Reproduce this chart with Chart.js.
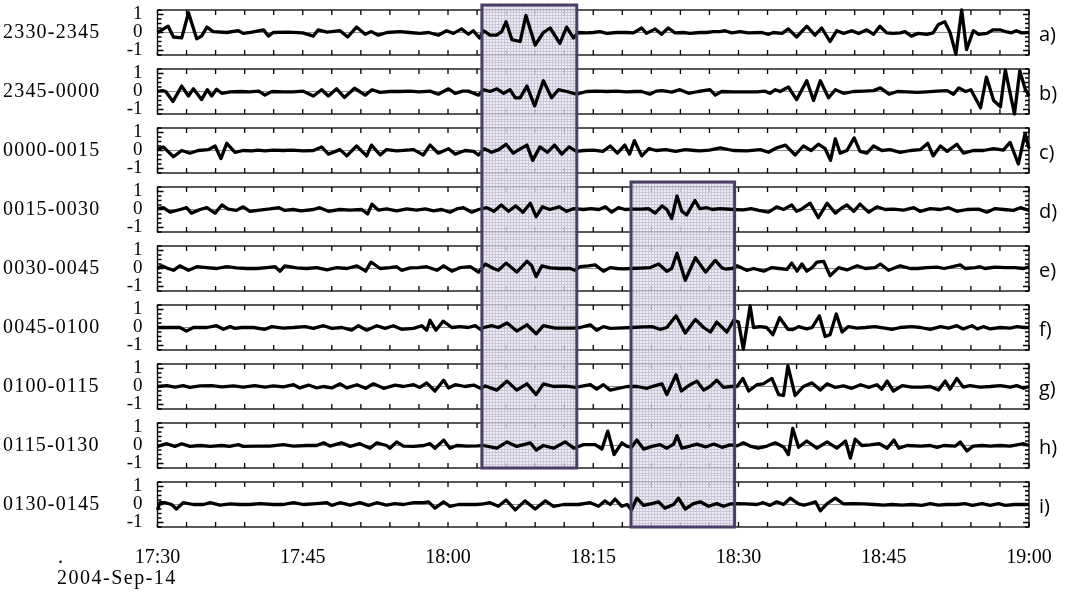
<!DOCTYPE html>
<html>
<head>
<meta charset="utf-8">
<script src="https://cdn.jsdelivr.net/npm/chart.js@4.4.0/dist/chart.umd.min.js"></script>
<style>
  body{margin:0;background:#fff;}
  #wrap{position:relative;width:1066px;height:596px;overflow:hidden;background:#fff;}
  .pane{position:absolute;left:0;width:1066px;}
  .name{position:absolute;left:3px;font-family:"Liberation Serif",serif;font-size:20px;letter-spacing:1.2px;line-height:22px;white-space:nowrap;color:#000;}
  .tag{position:absolute;left:1039px;font-family:"Open Sans",sans-serif;font-size:20px;line-height:24px;color:#000;}
</style>
</head>
<body>
<div id="wrap"></div>
<script>
// minutes after 17:30, 2004-Sep-14
var panelNames = ["2330-2345","2345-0000","0000-0015","0015-0030","0030-0045","0045-0100","0100-0115","0115-0130","0130-0145"];
var panelTags = ["a)","b)","c)","d)","e)","f)","g)","h)","i)"];

var tA = [0,1.1,1.65,2.5,3.2,4.05,4.55,5.1,5.75,7.15,8.35,8.85,9.75,10.95,11.45,11.95,13.5,15,16.1,16.6,
  17.5,18.85,19.65,20.55,21.45,22.1,22.8,23.7,25.05,26,27.1,28,29,29.85,30.55,31.4,32.1,32.6,33.25,33.65,
  34.35,35,35.55,36,36.6,37.45,38.05,39,39.85,40.55,41.55,42.25,42.95,43.45,44.3,45,45.7,46.4,47.4,48.45,
  49.15,50,50.5,51.4,52.05,52.75,53.45,54.3,55,56,56.7,57.4,58.1,58.6,59.3,60.15,61,62.4,63.1,63.6,
  64.5,65.15,66,67.05,67.9,68.6,69.45,70.15,70.85,71.7,72.4,73.25,73.95,74.6,75.3,76,76.7,77.2,77.85,78.55,
  79.45,80.1,80.65,81.3,81.85,82.45,83.05,83.55,84.25,84.8,85.65,86.3,87,87.7,88.2,88.7,89.25,90];
var vA = [0,0.35,-0.25,-0.3,1.1,-0.35,-0.2,0.3,0.05,0,0.1,-0.05,0.02,0.15,-0.2,0,0.02,-0.02,-0.2,0.15,
  0.02,0.1,-0.25,0.3,-0.1,0.05,-0.15,0,0.05,0,-0.05,0,-0.15,0.1,-0.05,0.2,-0.1,0.1,-0.3,0.1,
  -0.15,-0.15,0.05,0.6,-0.4,-0.5,0.95,-0.7,0,0.25,-0.6,0.3,-0.3,0,-0.02,0,0.05,-0.05,0,0,
  -0.02,0.25,-0.05,0.2,-0.1,0.25,-0.02,0,-0.05,0,0,0.05,0.05,0.1,-0.02,0.05,-0.02,0,-0.1,0,
  -0.05,0.2,-0.25,0.35,-0.15,0.25,-0.5,0.1,-0.05,0.1,-0.05,0.15,-0.1,0.35,-0.02,-0.05,-0.02,0.05,-0.2,-0.05,
  -0.1,-0.02,0.45,0.6,0,-1.2,1.25,-0.95,0.1,-0.1,-0.05,0.15,0.15,0.03,-0.02,0.1,-0.02,0];

var tB = [0,0.5,0.85,1.6,2.5,3.2,3.7,4.55,5.15,5.6,
  6.1,6.65,7.5,8.55,9.55,10.45,11.1,11.8,13,14,
  15.05,16.1,16.95,17.65,18.5,19.3,20.35,21.45,22.15,23,
  24,25,26.1,27,28.15,29,30.05,30.75,31.5,32.1,
  33.15,33.65,34.35,35.05,35.75,36.4,36.95,37.45,38.15,38.95,
  39.85,40.7,41.4,42.25,43.3,44.3,45.35,46.4,47.4,48.45,
  49.3,50,50.85,51.5,52.1,53.1,53.95,54.85,55.85,57.05,
  57.6,58.25,59.45,60.5,61.9,62.75,63.25,63.8,64.3,65.15,
  66,67.05,67.75,68.45,69.3,70,70.85,71.9,72.95,73.95,
  74.65,75.55,76.4,77.4,78.45,79.45,80.5,81.55,82.2,82.75,
  83.45,84,85,85.6,86.35,87.05,87.55,88.5,89.05,89.6,
  90];
var vB = [0,0.05,0,-0.55,0.3,-0.25,0.15,-0.45,0.1,-0.25,
  0.12,-0.1,-0.02,0,-0.02,0.02,-0.2,0,-0.02,-0.02,
  0.02,-0.25,0.1,-0.25,0.15,-0.33,0.18,-0.2,0.1,-0.05,
  0,0,0.02,-0.02,0.02,-0.15,0.15,-0.1,0.02,0.02,
  -0.2,0.1,0,0.15,-0.1,0.1,-0.35,-0.35,0.3,-0.8,
  0.6,-0.35,0.1,0,-0.15,0,0.02,0,0.02,-0.02,
  0,0,-0.15,0.02,0.05,-0.03,0.1,-0.1,0,0.1,
  -0.2,0,-0.02,-0.02,-0.02,0.02,-0.1,0.1,0,0.25,
  -0.45,0.6,-0.5,0.6,-0.35,0.1,-0.1,0,0.02,0.05,
  0.2,-0.15,0,-0.02,-0.05,-0.02,0.02,0.05,-0.15,0.2,
  0,0.1,-0.9,0.8,-0.5,-0.85,1.2,-1.25,1.15,0.15,
  -0.25];

var tC = [0,0.6,1.65,2.5,3.35,4.2,5.25,5.95,6.55,7.15,
  8,8.85,9.75,10.4,11.1,11.95,13,13.85,15.05,16.1,
  16.95,17.65,18.85,19.55,20.55,21.6,22.1,23,23.65,24.7,
  25.75,26.45,27.45,28.15,29,30.05,30.75,31.75,32.65,33.15,
  33.75,34.5,35.25,36,36.75,37.5,38.15,38.75,39.5,40.25,
  41,41.75,42.5,43.25,44,45,46,46.75,47.5,48.25,
  48.75,49.25,50,50.75,51.5,52.5,53.5,54.5,55.5,56,
  57,58.1,59.45,60.85,62.25,63.1,63.95,64.85,65.85,66.7,
  67.5,68.25,68.95,69.5,70,70.5,71.2,71.95,72.55,73.25,
  73.95,74.8,75.65,76.7,77.75,78.8,79.55,80.1,80.85,81.55,
  82.55,83.25,84.25,85.3,86.35,87.35,88.05,88.9,89.6,90];
var vC = [0.05,0.2,-0.35,0,-0.15,0,0.05,0.25,-0.45,0.4,
  -0.1,0,-0.02,0.02,-0.02,0.02,0,0.02,-0.02,0,
  0.2,-0.2,0.05,-0.3,0.25,-0.3,0.3,-0.25,0.05,-0.02,
  0.02,0.05,-0.25,0.3,-0.15,0.1,-0.2,0,-0.05,-0.25,
  0.1,-0.1,0.05,0.35,-0.15,0.1,0.3,-0.55,0.2,-0.1,
  0.3,-0.2,0.2,-0.05,0,0.02,-0.05,0.25,-0.15,0.3,
  -0.2,0.55,-0.3,0.1,0,0.05,-0.05,0.05,0,-0.02,
  0.02,0.15,0,-0.02,0.05,-0.1,0.15,0.3,-0.25,0.25,
  0,0.35,0.1,-0.55,0.65,-0.15,0,0.7,-0.05,-0.15,
  0.25,0,0.05,-0.1,0,0.05,0.4,-0.3,0.25,-0.05,
  0.35,-0.15,0,0,0.1,0.02,0.45,-0.75,0.95,0.1];

var tD = [0,0.6,1.3,2.35,3,3.5,4.4,5.1,5.95,6.65,
  7.3,8.15,8.85,9.55,10.55,11.6,12.55,13.15,14,14.85,
  16.1,16.75,17.65,18.85,19.9,21.1,21.7,22.15,22.8,23.65,
  24.7,25.75,26.75,27.65,28.5,29.35,30.2,30.9,31.6,32.45,
  33.15,34,34.75,35.5,36.25,37,37.75,38.5,39.1,39.75,
  40.5,41.5,42.25,43,44,44.75,45.6,46.25,46.9,47.6,
  48.3,49,50,50.7,51.4,52.1,52.6,53.1,53.65,54.15,
  54.65,55.5,56,56.75,57.3,58.1,59.45,60.5,61.3,62.1,
  63.1,63.95,64.65,65.5,66,66.5,67.4,68.25,69.15,70,
  70.7,71.2,71.9,72.55,73.45,74.3,75.15,76,77.05,78.1,
  78.75,79.8,80.85,81.7,82.55,83.6,84.8,85.65,86.5,87.4,
  88.4,89.1,90];
var vD = [0.05,0.1,-0.15,0,0.1,-0.2,0,0.1,-0.2,0.25,
  0.02,-0.05,0.15,-0.1,-0.03,0.03,0.1,-0.05,0,-0.08,
  0,0.1,-0.1,0,-0.03,0,-0.25,0.3,-0.03,0.03,
  -0.08,0.03,-0.03,0.03,-0.08,0,-0.15,0.03,0.1,-0.15,
  0,0.1,-0.1,0.25,-0.1,0.2,-0.15,0.35,-0.4,0.15,
  0,0.15,-0.1,0.05,0,0.05,0,0.15,-0.15,0.1,
  0,0.02,0.02,0.05,-0.2,0.2,0,-0.5,0.75,-0.1,
  -0.3,0.5,0.05,0.1,0,0.05,0,-0.02,0.05,-0.05,
  -0.15,0.15,0,0.25,-0.1,0.02,0.35,-0.45,0.35,-0.2,
  0.1,0.25,-0.1,0.3,-0.15,0.15,0,0.02,-0.03,0.1,
  -0.1,0.05,0,0.1,-0.1,0,0.02,-0.15,0.05,0,
  -0.05,0.1,-0.05];

var tE = [0,0.45,0.95,1.65,2.3,3.2,4.05,5.1,6.1,7.15,
  8.15,9.2,10.25,11.3,12.15,12.65,13.15,14.35,15.4,16.45,
  17.5,18.5,19.55,20.6,21.5,22.05,23,24,24.7,25.2,
  26.1,26.95,27.8,28.85,29.55,30.4,31.25,32.3,33.15,33.85,
  34.7,35.2,36,37.1,38.15,38.65,39.1,39.7,40.55,41.55,
  42.6,43.1,43.65,44.5,45.2,46.05,46.75,47.45,48.1,48.95,
  49.85,50.9,51.75,52.6,53.1,53.65,54.5,55.55,56.6,57.6,
  58.3,58.65,59.35,59.85,60.85,61.55,62.6,63.45,64.2,65,
  65.5,66.05,66.55,67.05,67.6,68.1,68.8,69.45,70.35,71.2,
  72.25,73.1,74.1,74.65,75.5,76.7,77.75,78.5,79.45,80.5,
  81.25,82.9,83.4,84.45,84.95,85.45,86.5,87.55,88.55,89.45,
  90];
var vE = [0,0.15,0.03,-0.1,0.15,-0.1,0.1,0.05,0,0.1,
  0.03,0,0,0.05,0.1,-0.15,0.15,0.03,0,0.05,
  -0.08,0.05,0,0.15,-0.15,0.35,0,0.05,0.1,-0.1,
  0.03,0.05,0.1,-0.1,0.15,-0.15,0.05,0.1,-0.2,0.25,
  0,-0.1,0.3,-0.2,0.4,0.15,-0.45,0.15,0.03,0,
  0,-0.1,0.1,0.15,0.2,-0.15,0.05,0,-0.02,0,
  0.02,0.05,0.25,-0.15,0,0.85,-0.65,0.6,-0.2,0.45,
  0.03,-0.03,0,0.15,-0.1,0,-0.15,0.05,0,-0.05,
  0.3,-0.15,0.25,-0.15,0.05,0.35,0.4,-0.4,0.05,-0.08,
  0.15,0,0.05,0.25,-0.1,0.15,0,0,0.05,0.08,
  0,0.2,0,0.05,0.1,0,0.08,0.05,0.05,0,
  0.1];

var tF = [0,1.3,2.3,3,3.7,5.1,6.1,6.8,7.5,8,
  8.7,9.9,11.1,11.8,13,14.05,15.25,16.1,17.15,18,
  19.05,20.05,20.75,21.6,22.65,23.5,24.35,25.2,26.45,27.3,
  27.8,28.15,28.75,29.5,30.4,31.25,32.1,32.8,33.35,33.7,
  34.5,35.2,36.1,37.1,38.15,39.1,39.85,41.05,42.1,42.95,
  43.65,44.7,45.35,46.05,46.75,47.45,49,50.2,51.05,51.9,
  52.6,53.55,54.5,55.55,56.4,57.1,57.75,58.8,59.5,60,
  60.5,61.2,61.55,62.25,62.9,63.55,64.25,65.1,65.6,66.2,
  67.05,67.6,68.35,68.95,69.45,70.1,70.7,71.35,72.25,73.1,
  74.1,75.1,75.85,76.7,77.9,78.8,79.8,80.85,81.7,82.55,
  83.2,84.1,84.65,85.3,86,87,88.05,88.75,89.45,90];
var vF = [0,0,0,-0.2,0,0,0.1,-0.1,0.05,-0.05,
  0,0,-0.1,0.05,-0.03,0,0.05,-0.05,0.1,-0.05,
  0,-0.15,0.1,-0.15,0.1,-0.05,0.1,-0.1,-0.05,0.1,
  -0.15,0.4,-0.15,0.35,0,0.05,0,0.1,-0.1,0,
  0.1,0,0.25,-0.2,0.15,-0.35,0.1,-0.03,-0.03,-0.03,
  0,0.15,-0.15,0.05,-0.05,-0.03,0,0.03,0.05,-0.1,
  0,0.65,-0.3,0.45,0,-0.25,0.3,-0.25,0.4,0.3,
  -1.2,1.2,0,0.05,0,-0.4,0.55,-0.1,-0.12,0.05,
  -0.08,0,0.65,-0.5,-0.4,0.75,-0.25,0.05,-0.03,0,
  0.05,-0.03,-0.1,0,0.05,0,-0.1,0.05,-0.03,0.1,
  -0.08,0.1,-0.08,0.05,-0.08,0,-0.03,0.05,0,0];

var tG = [0,0.95,1.8,2.65,3.35,4.4,5.6,6.65,7.85,8.85,
  10.05,11.1,11.95,13,14.05,14.7,15.6,16.45,17.15,18,
  18.85,19.55,20.6,21.5,22.3,23.35,24.55,25.4,26.45,27.1,
  27.8,28.65,29.55,30.05,30.75,31.75,32.65,33.35,33.85,35.05,
  36.1,37.1,38.15,39.1,39.85,40.9,42.1,43.15,44,44.7,
  45.35,46.05,46.75,48.5,49.5,50.55,51.4,52.1,52.6,53.55,
  54.1,55,55.7,56.4,57.05,57.75,58.45,59.3,59.85,60.45,
  61.05,61.9,62.55,63.45,64.15,64.65,65.1,65.85,66.7,67.6,
  68.45,69.15,70,70.85,71.7,72.6,73.45,74.3,74.8,75.35,
  76,76.9,77.9,78.95,79.8,80.65,81.35,81.85,82.55,83.2,
  83.9,84.95,86,87.05,88.05,88.75,89.45,90];
var vG = [0,0.05,-0.03,0.05,-0.05,0.03,0.05,-0.02,0.03,-0.03,
  0.05,-0.03,0.03,-0.02,0.1,-0.08,0.08,-0.08,0,-0.08,
  0.15,-0.08,0.1,-0.1,0.15,-0.1,0.08,0,0.1,-0.05,
  0.2,-0.25,0.35,-0.08,0.1,0,0.08,-0.1,0.03,-0.2,
  0.3,-0.2,0.15,-0.45,0.15,0,0.02,-0.05,0.03,0.1,
  -0.15,0.1,-0.2,0,0,-0.1,0.05,0.15,-0.45,0.65,
  -0.25,0.1,0.3,-0.2,0,0.35,-0.05,0,0,0.45,
  -0.25,0.1,0.15,0.45,-0.45,-0.5,1.15,-0.5,0,0.2,
  -0.2,0.15,-0.05,0.03,-0.1,0.1,-0.05,0.1,-0.15,0.3,
  -0.25,0.05,-0.03,-0.03,0,-0.2,0.3,-0.15,0.45,-0.03,
  0.05,-0.03,0,0.05,-0.03,0.05,-0.1,0];

var tH = [0,0.95,1.8,2.5,3.35,4.4,5.45,6.65,7.45,8.35,
  8.85,10.25,11.6,13,14.05,15.4,16.45,17.15,17.8,19,
  19.9,20.9,21.95,22.65,23.65,24,24.7,25.4,26.45,27.5,
  28.15,28.65,29.55,30.2,30.9,31.95,33,33.65,35.05,36.1,
  37.1,38,38.5,39.1,39.85,40.9,42.1,43,44,45.2,
  45.9,46.5,47.15,47.95,48.45,48.95,49.5,50.2,51.05,51.9,
  52.6,53.3,53.65,54.15,55,55.7,56.6,57.45,58.3,59.15,
  59.85,60.5,61.2,62.05,62.95,63.8,64.65,65.15,65.6,66.2,
  67.05,68.1,69.15,70.15,71.05,71.55,72.05,72.75,73.6,74.55,
  75.35,76.05,76.55,77.4,78.8,79.8,80.5,81.2,82.4,82.9,
  83.6,84.25,85.15,86,87.05,88.05,89.45,90];
var vH = [-0.05,0.1,-0.05,0.1,-0.05,0,-0.05,0,-0.05,0.05,
  -0.05,-0.03,-0.03,0.05,-0.03,0,0,0.15,-0.03,0.15,
  -0.05,0.1,-0.15,0.15,0,-0.15,0.2,-0.03,-0.05,0,
  0.1,-0.15,0.3,-0.15,0,-0.03,-0.02,0,-0.15,0.2,
  -0.05,0.08,0.15,-0.25,0,-0.15,0.2,-0.15,0.05,0.05,
  -0.2,0.8,-0.5,0.15,-0.03,-0.1,0.3,-0.2,-0.05,0.05,
  -0.15,0.08,0.55,-0.15,-0.03,0.08,-0.08,0.08,-0.1,0.03,
  -0.02,0.15,-0.03,-0.15,-0.03,0.15,-0.08,-0.5,0.95,-0.1,
  0.25,-0.15,0.2,-0.15,0.25,-0.7,0.35,0,0.03,0.1,
  -0.15,0.3,-0.15,0,-0.03,0,-0.1,0,-0.03,0.2,
  -0.3,-0.03,0,-0.03,0,-0.03,0.1,0];

var tI = [0,0.25,0.75,1.45,1.95,2.65,3.7,4.75,5.45,6.45,
  7.5,8.5,9.5,10.6,11.95,13,14.05,15.05,16.45,17.5,
  18,18.85,19.9,20.9,21.8,22.65,23.65,24.5,25.4,26.45,
  27.5,28,28.65,29.55,30.2,31.1,32.1,32.95,33.65,34.35,
  35.2,36,36.95,37.95,39,40.05,40.9,41.95,42.95,43.5,
  44.7,45.55,46.2,46.75,47.25,47.95,48.5,48.95,49.5,50.2,
  51.05,51.75,52.4,53.3,53.8,54.5,55.35,56.05,56.9,57.75,
  58.45,59.15,59.85,60.75,61.9,62.55,63.25,63.95,64.65,65.35,
  66.2,66.75,67.4,67.95,68.45,69.15,70,70.85,71.9,72.95,
  74,75,75.85,76.9,77.9,78.95,79.8,80.65,81.5,82.55,
  83.4,84.15,85.15,86,86.85,87.55,88.5,89.45,90];
var vI = [-0.3,0.1,0.1,0,-0.25,0.1,0,0,0.1,-0.03,
  0.03,0,0,0.05,0,0,0.1,0,0.05,0.1,
  -0.05,0.1,-0.03,0.1,-0.05,0.1,-0.03,0.05,0,0.1,
  0.1,0.15,-0.2,0.15,-0.1,0,0,0,0.03,0.1,
  -0.1,0.25,-0.3,0.2,-0.25,0.2,-0.1,0,0,0,
  0.1,-0.1,0.2,0,0.3,-0.1,0,-0.3,0.35,-0.05,
  0.05,0.15,-0.2,0,0.35,-0.25,0.05,0.15,-0.1,0.05,
  -0.1,0.03,0.05,0.03,0,0.1,-0.05,0.15,0,0.35,
  0.03,-0.03,0.05,0.15,-0.35,0.05,0.35,0.03,0.05,0.03,
  0,-0.03,0,-0.03,0,-0.05,0.05,-0.03,0,0,
  0.05,-0.05,0.05,-0.05,0.05,-0.05,0,0,0];

// highlighted intervals (minutes after 17:30) and the panels they span
var boxFrom = [33.5, 48.9];
var boxTo = [43.3, 59.6];
var boxFirst = [0, 3];
var boxLast = [7, 8];

var times = [tA,tB,tC,tD,tE,tF,tG,tH,tI];
var vals = [vA,vB,vC,vD,vE,vF,vG,vH,vI];

var TOP = 10, PITCH = 59, PAD = 7;
var serif = '"Liberation Serif","Times New Roman",serif';

function clock(v){
  var m = 17*60 + 30 + v;
  return Math.floor(m/60) + ':' + String(m % 60).padStart(2,'0');
}

var pat = null;
function pattern(ctx){
  if(pat) return pat;
  var c = document.createElement('canvas');
  c.width = 3; c.height = 3;
  var g = c.getContext('2d');
  g.fillStyle = '#ece9f2'; g.fillRect(0,0,3,3);
  g.fillStyle = '#c2bbd3'; g.fillRect(0,0,1,3); g.fillRect(0,0,3,1);
  pat = ctx.createPattern(c,'repeat');
  return pat;
}

function boxes(chart, k, fill){
  var ctx = chart.ctx, a = chart.chartArea, x = chart.scales.x;
  boxFrom.forEach(function(t0, b){
    if(k < boxFirst[b] || k > boxLast[b]) return;
    var x0 = x.getPixelForValue(t0), x1 = x.getPixelForValue(boxTo[b]);
    var y0 = k === boxFirst[b] ? a.top - 5 : 0;
    var y1 = k === boxLast[b] ? a.bottom : chart.height;
    ctx.save();
    if(fill){
      ctx.globalAlpha = 0.85;
      ctx.fillStyle = pattern(ctx);
      ctx.fillRect(x0, y0, x1 - x0, y1 - y0);
    } else {
      ctx.strokeStyle = '#4a3d66';
      ctx.lineWidth = 3;
      ctx.beginPath();
      ctx.moveTo(x0, y0); ctx.lineTo(x0, y1);
      ctx.moveTo(x1, y0); ctx.lineTo(x1, y1);
      if(k === boxFirst[b]){ ctx.moveTo(x0 - 1.5, y0); ctx.lineTo(x1 + 1.5, y0); }
      if(k === boxLast[b]){ ctx.moveTo(x0 - 1.5, y1); ctx.lineTo(x1 + 1.5, y1); }
      ctx.stroke();
    }
    ctx.restore();
  });
}

var framePlugin = {
  id: 'frame',
  beforeDatasetsDraw: function(chart, args, opts){
    var ctx = chart.ctx, a = chart.chartArea, x = chart.scales.x, y = chart.scales.y;
    ctx.save();
    ctx.strokeStyle = '#000';
    ctx.lineWidth = 1.3;
    ctx.strokeRect(a.left, a.top, a.width, a.height);
    ctx.beginPath();
    x.ticks.forEach(function(t){
      var px = x.getPixelForValue(t.value);
      ctx.moveTo(px, a.top); ctx.lineTo(px, a.top + 5);
      ctx.moveTo(px, a.bottom); ctx.lineTo(px, a.bottom - 5);
    });
    y.ticks.forEach(function(t){
      var py = y.getPixelForValue(t.value);
      var len = Math.abs(t.value - Math.round(t.value)) < 1e-6 ? 6 : 4;
      ctx.moveTo(a.left, py); ctx.lineTo(a.left + len, py);
      ctx.moveTo(a.right, py); ctx.lineTo(a.right - len, py);
    });
    ctx.stroke();
    ctx.restore();
    boxes(chart, opts.index, true);
  },
  afterDatasetsDraw: function(chart, args, opts){
    boxes(chart, opts.index, false);
  }
};

var wrap = document.getElementById('wrap');

panelNames.forEach(function(name, k){
  var last = k === panelNames.length - 1;
  var top = TOP + k*PITCH;

  var pane = document.createElement('div');
  pane.className = 'pane';
  pane.style.top = (top - PAD) + 'px';
  pane.style.height = (last ? 596 - (top - PAD) : PITCH) + 'px';
  var cv = document.createElement('canvas');
  pane.appendChild(cv);
  wrap.appendChild(pane);

  var nm = document.createElement('div');
  nm.className = 'name';
  nm.textContent = name;
  nm.style.top = (top + 21 - 11) + 'px';
  wrap.appendChild(nm);

  var tg = document.createElement('div');
  tg.className = 'tag';
  tg.textContent = panelTags[k];
  tg.style.top = (top + 24 - 12) + 'px';
  wrap.appendChild(tg);

  var pts = times[k].map(function(t, j){ return {x: t, y: vals[k][j]}; });

  new Chart(cv, {
    type: 'line',
    data: { datasets: [{
      data: pts,
      borderColor: '#000',
      borderWidth: 3.3,
      borderJoinStyle: 'round',
      pointRadius: 0,
      tension: 0,
      clip: false
    }]},
    options: {
      responsive: true,
      maintainAspectRatio: false,
      animation: false,
      devicePixelRatio: 1,
      events: [],
      layout: { padding: { left: 107.5, right: 37, top: PAD, bottom: 0 } },
      plugins: { legend: {display: false}, tooltip: {enabled: false}, frame: {index: k} },
      scales: {
        x: {
          type: 'linear', min: 0, max: 90,
          afterFit: function(s){ s.height = last ? 69 : PAD; },
          grid: { display: false },
          border: { display: false },
          ticks: {
            display: last, stepSize: 3, autoSkip: false, maxRotation: 0, padding: 11,
            color: '#000', font: { family: serif, size: 20 },
            callback: function(v){ return v % 15 === 0 ? clock(v) : ''; }
          }
        },
        y: {
          min: -1.25, max: 1.25,
          afterFit: function(s){ s.width = 50; s.paddingTop = 0; s.paddingBottom = 0; },
          border: { display: false },
          grid: {
            drawTicks: false, lineWidth: 1,
            color: function(c){ return c.tick && Math.abs(c.tick.value) < 1e-6 ? '#8c8c8c' : 'rgba(0,0,0,0)'; }
          },
          ticks: {
            stepSize: 0.25, autoSkip: false, padding: 15,
            color: '#000', font: { family: serif, size: 19, lineHeight: 1 },
            callback: function(v){ return Math.abs(v - Math.round(v)) < 1e-6 ? String(Math.round(v)) : ''; }
          }
        }
      }
    },
    plugins: [framePlugin]
  });
});

var dot = document.createElement('div');
dot.className = 'name';
dot.textContent = '.';
dot.style.left = '58px';
dot.style.top = '545px';
wrap.appendChild(dot);

var date = document.createElement('div');
date.className = 'name';
date.textContent = '2004-Sep-14';
date.style.left = '57px';
date.style.letterSpacing = '1.5px';
date.style.top = '566px';
wrap.appendChild(date);
</script>
</body>
</html>
